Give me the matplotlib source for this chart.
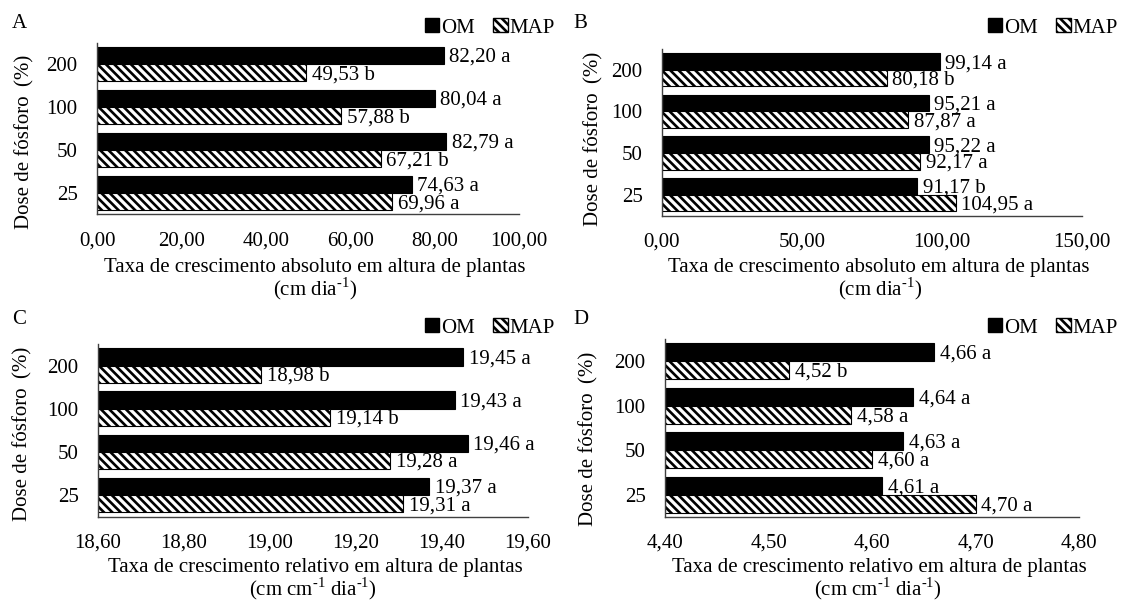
import matplotlib
matplotlib.use('Agg')
import matplotlib.pyplot as plt
from matplotlib.patches import Patch
from matplotlib.ticker import FuncFormatter, MultipleLocator

plt.rcParams['font.family'] = ['Liberation Serif', 'DejaVu Serif']
plt.rcParams['mathtext.fontset'] = 'custom'
plt.rcParams['mathtext.rm'] = 'Liberation Serif'
plt.rcParams['hatch.linewidth'] = 1.9

BS = chr(92)
HATCH = BS * 4

# ---------------- data ----------------
doses = ['25', '50', '100', '200']
series_names = ['OM', 'MAP']

om_A = [74.63, 82.79, 80.04, 82.20]
map_A = [69.96, 67.21, 57.88, 49.53]
let_om_A = ['a', 'a', 'a', 'a']
let_map_A = ['a', 'b', 'b', 'b']

om_B = [91.17, 95.22, 95.21, 99.14]
map_B = [104.95, 92.17, 87.87, 80.18]
let_om_B = ['b', 'a', 'a', 'a']
let_map_B = ['a', 'a', 'a', 'b']

om_C = [19.37, 19.46, 19.43, 19.45]
map_C = [19.31, 19.28, 19.14, 18.98]
let_om_C = ['a', 'a', 'a', 'a']
let_map_C = ['a', 'a', 'b', 'b']

om_D = [4.61, 4.63, 4.64, 4.66]
map_D = [4.70, 4.60, 4.58, 4.52]
let_om_D = ['a', 'a', 'a', 'a']
let_map_D = ['a', 'a', 'a', 'b']

xlim_A, step_A = (0, 100), 20
xlim_B, step_B = (0, 150), 50
xlim_C, step_C = (18.6, 19.6), 0.2
xlim_D, step_D = (4.4, 4.8), 0.1

xlab_abs = 'Taxa de crescimento absoluto em altura de plantas'
xlab_rel = 'Taxa de crescimento relativo em altura de plantas'
unit_abs = r'(cm dia$^{\text{-1}}$)'
unit_rel = r'(cm cm$^{\text{-1}}$ dia$^{\text{-1}}$)'
ylab = 'Dose de fósforo \u2009(%)'

# ---------------- figure ----------------
W, H = 1121, 600
fig = plt.figure(figsize=(W / 100, H / 100), dpi=100)
FS = 15


def px_rect(l, t, r, b):
    return [l / W, 1 - b / H, (r - l) / W, (b - t) / H]


def fx(x):
    return x / W


def fy(y):
    return 1 - y / H


fmt = FuncFormatter(lambda v, p: f"{v:.2f}".replace('.', ','))

panels = [
    dict(letter='A', rect=(97, 42.5, 519, 214.5), om=om_A, mp=map_A, lo=let_om_A, lm=let_map_A,
         xlim=xlim_A, step=step_A, lpos=(12, 23), ypos=(25, 142), xl=xlab_abs, un=unit_abs,
         xlpos=(315, 272), unpos=(315, 295), legpos=(555, 28)),
    dict(letter='B', rect=(662, 49, 1082, 215.5), om=om_B, mp=map_B, lo=let_om_B, lm=let_map_B,
         xlim=xlim_B, step=step_B, lpos=(573, 23), ypos=(594, 139), xl=xlab_abs, un=unit_abs,
         xlpos=(879, 272), unpos=(880, 295), legpos=(1118, 28)),
    dict(letter='C', rect=(98, 344, 528, 516.5), om=om_C, mp=map_C, lo=let_om_C, lm=let_map_C,
         xlim=xlim_C, step=step_C, lpos=(12, 320), ypos=(23, 434), xl=xlab_rel, un=unit_rel,
         xlpos=(315, 572), unpos=(313, 595), legpos=(555, 328)),
    dict(letter='D', rect=(665, 339, 1079, 517), om=om_D, mp=map_D, lo=let_om_D, lm=let_map_D,
         xlim=xlim_D, step=step_D, lpos=(573, 320), ypos=(589, 439), xl=xlab_rel, un=unit_rel,
         xlpos=(879, 572), unpos=(878, 595), legpos=(1118, 328)),
]

h = 0.4
for P in panels:
    ax = fig.add_axes(px_rect(*P['rect']))
    x0 = P['xlim'][0]
    ypos = list(range(len(doses)))
    om_w = [v - x0 for v in P['om']]
    mp_w = [v - x0 for v in P['mp']]
    ax.barh([y + h / 2 for y in ypos], om_w, height=h, left=x0, color='black',
            edgecolor='black', linewidth=0.8)
    ax.barh([y - h / 2 for y in ypos], mp_w, height=h, left=x0, color='white',
            edgecolor='black', hatch=HATCH, linewidth=0.8)
    for y, v, l in zip(ypos, P['om'], P['lo']):
        ax.annotate(f"{v:.2f}".replace('.', ',') + ' ' + l, (v, y + h / 2),
                    xytext=(4, -1.5), textcoords='offset points', va='center', ha='left', fontsize=FS)
    for y, v, l in zip(ypos, P['mp'], P['lm']):
        ax.annotate(f"{v:.2f}".replace('.', ',') + ' ' + l, (v, y - h / 2),
                    xytext=(4, -1.5), textcoords='offset points', va='center', ha='left', fontsize=FS)
    ax.set_xlim(*P['xlim'])
    ax.set_ylim(-0.5, len(doses) - 0.5)
    ax.xaxis.set_major_locator(MultipleLocator(P['step']))
    ax.xaxis.set_major_formatter(fmt)
    ax.set_yticks(ypos)
    ax.set_yticklabels(doses)
    ax.tick_params(axis='x', length=0, pad=12, labelsize=FS)
    ax.tick_params(axis='y', length=0, pad=14, labelsize=FS)
    for s in ['top', 'right']:
        ax.spines[s].set_visible(False)
    for s in ['left', 'bottom']:
        ax.spines[s].set_color('#404040')
        ax.spines[s].set_linewidth(1.0)

    fig.text(fx(P['lpos'][0]), fy(P['lpos'][1]), P['letter'], fontsize=FS, ha='left', va='center')
    fig.text(fx(P['ypos'][0]), fy(P['ypos'][1]), ylab, fontsize=FS, rotation=90,
             ha='center', va='center')
    fig.text(fx(P['xlpos'][0]), fy(P['xlpos'][1]), P['xl'], fontsize=FS, ha='center', va='baseline')
    fig.text(fx(P['unpos'][0]), fy(P['unpos'][1]), P['un'], fontsize=FS, ha='center', va='baseline')

    handles = [Patch(facecolor='black', edgecolor='black', label=series_names[0]),
               Patch(facecolor='white', edgecolor='black', hatch=HATCH, label=series_names[1])]
    fig.legend(handles=handles, loc='center right', bbox_to_anchor=(fx(P['legpos'][0]), fy(P['legpos'][1])),
               ncol=2, frameon=False, fontsize=FS, handlelength=0.7, handleheight=0.65,
               handletextpad=0.1, columnspacing=0.85, borderpad=0, borderaxespad=0)

fig.savefig('out.png', dpi=100)
